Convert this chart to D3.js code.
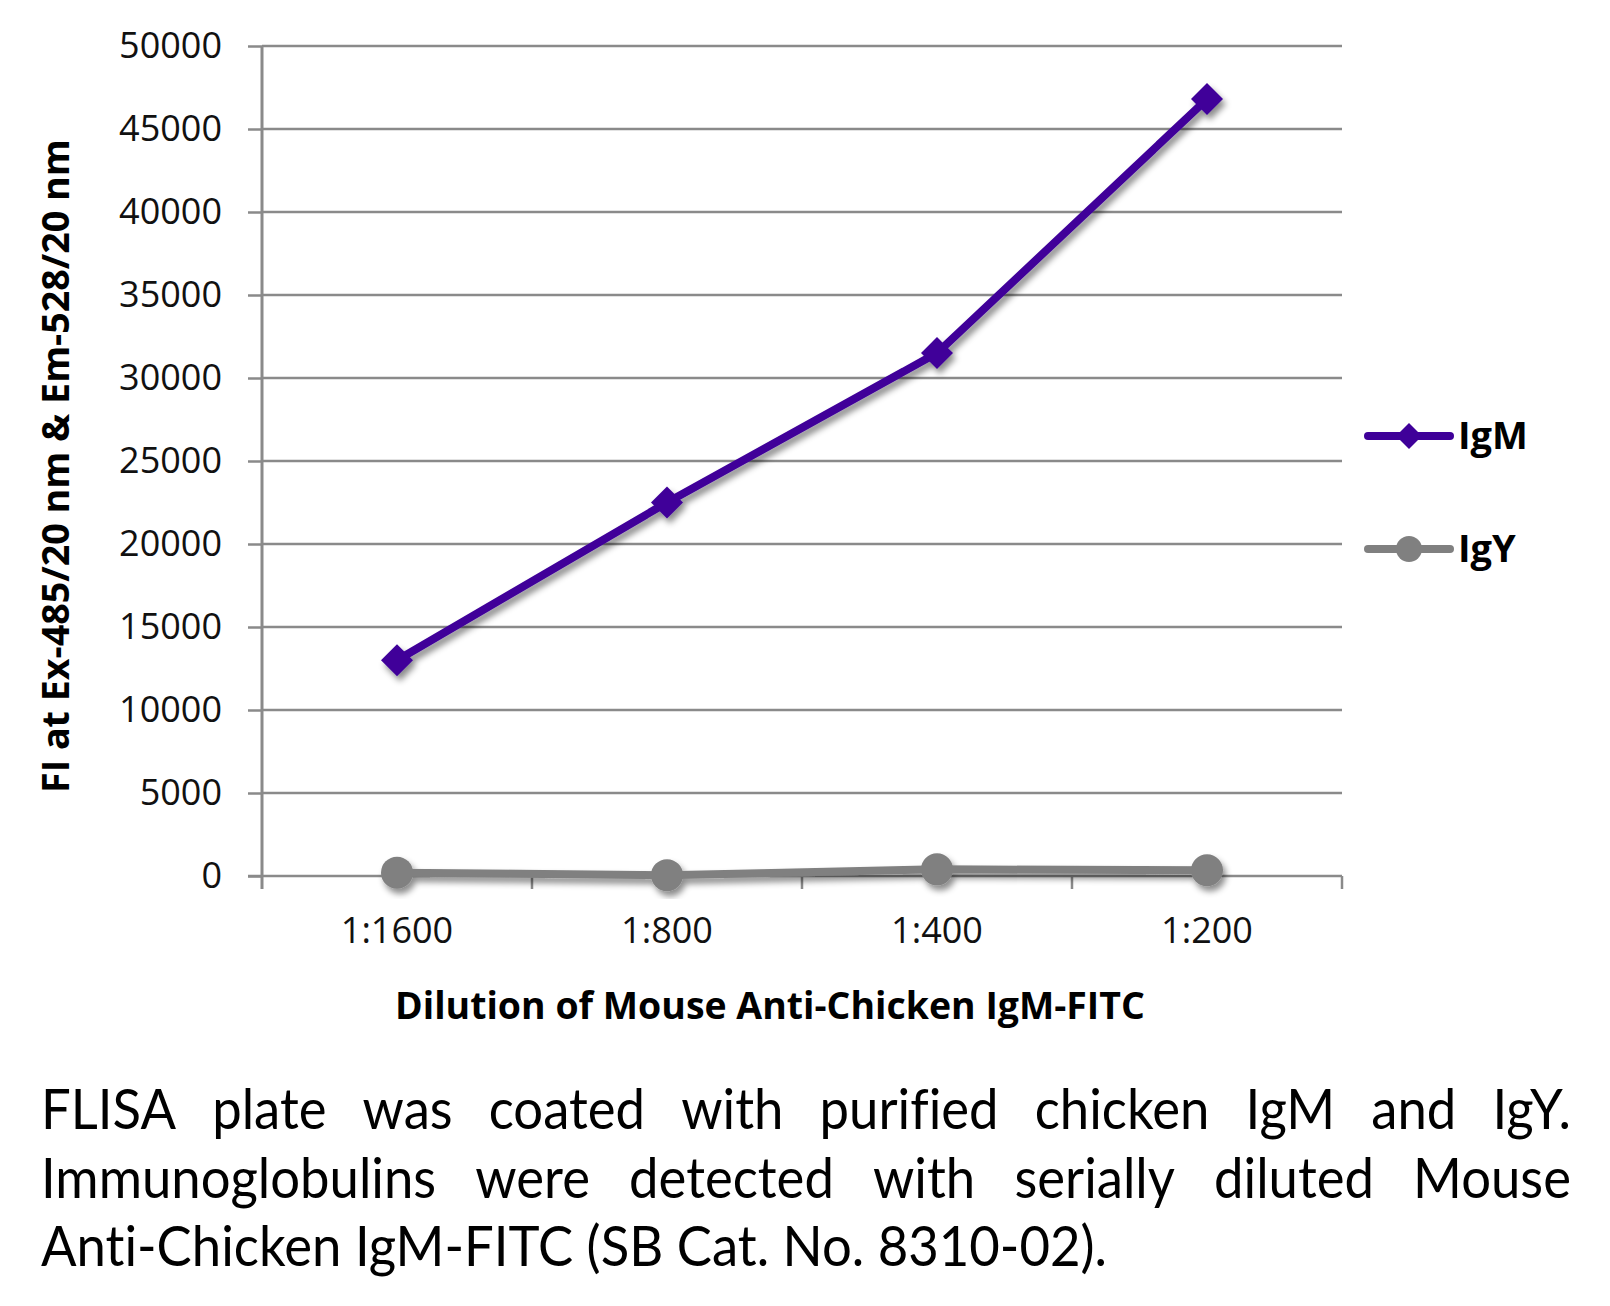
<!DOCTYPE html>
<html>
<head>
<meta charset="utf-8">
<script src="https://cdn.jsdelivr.net/npm/d3@7"></script>
<style>
  html, body { margin: 0; padding: 0; background: #fff; }
  svg { display: block; }
  text { font-variant-ligatures: none; font-feature-settings: "liga" 0, "clig" 0; }
</style>
</head>
<body>
<svg id="chart" width="1610" height="1306"></svg>
<script>
// ---- data ----
const categories = ["1:1600", "1:800", "1:400", "1:200"];
const igmValues = [13000, 22500, 31500, 46800];
const igyValues = [200, 50, 400, 350];
const seriesNames = ["IgM", "IgY"];
const seriesColors = ["#3f0099", "#808080"];
const yTickValues = [0, 5000, 10000, 15000, 20000, 25000, 30000, 35000, 40000, 45000, 50000];
const yTitle = "FI at Ex-485/20 nm & Em-528/20 nm";
const xTitle = "Dilution of Mouse Anti-Chicken IgM-FITC";
const captionLines = [
  "FLISA plate was coated with purified chicken IgM and IgY.",
  "Immunoglobulins were detected with serially diluted Mouse",
  "Anti-Chicken IgM-FITC (SB Cat. No. 8310-02)."
];

// ---- layout ----
const FONT = "'Open Sans', 'Noto Sans', sans-serif";
const CAPFONT = "Lato, 'Open Sans', sans-serif";
const plot = { left: 262, right: 1342, top: 46, bottom: 876 };
const svg = d3.select("#chart");

const defs = svg.append("defs");
const f = defs.append("filter").attr("id", "shadow")
  .attr("x", "-20%").attr("y", "-20%").attr("width", "140%").attr("height", "140%");
f.append("feDropShadow").attr("dx", 3).attr("dy", 5).attr("stdDeviation", 3)
  .attr("flood-color", "#000").attr("flood-opacity", 0.45);

const x = d3.scaleBand().domain(categories).range([plot.left, plot.right]).padding(0);
const y = d3.scaleLinear().domain([0, 50000]).range([plot.bottom, plot.top]);

function fittedText(parent, str, cx, baseline, targetW, attrs, anchor) {
  const g = parent.append("g");
  const t = g.append("text").text(str);
  Object.entries(attrs).forEach(([k, v]) => t.attr(k, v));
  const w = t.node().getComputedTextLength();
  const s = targetW / w;
  const x0 = anchor === "middle" ? cx - targetW / 2 : cx;
  g.attr("transform", `translate(${x0},${baseline}) scale(${s},1)`);
  return g;
}

// gridlines
svg.append("g").selectAll("line").data(yTickValues.filter(v => v > 0)).join("line")
  .attr("x1", plot.left).attr("x2", plot.right)
  .attr("y1", d => y(d)).attr("y2", d => y(d))
  .attr("stroke", "#8a8a8a").attr("stroke-width", 2.5);

// y axis
const yAxis = svg.append("g").attr("transform", `translate(${plot.left},0)`)
  .call(d3.axisLeft(y).tickValues(yTickValues).tickFormat(d3.format("d")).tickSize(14).tickPadding(26));
yAxis.select(".domain").remove();
yAxis.selectAll(".tick line").attr("x1", 0).attr("x2", -14).attr("stroke", "#8a8a8a").attr("stroke-width", 2.5);
yAxis.selectAll(".tick text").attr("font-family", FONT).attr("font-size", 36).attr("fill", "#111")
  .attr("x", -40);
svg.append("line").attr("x1", plot.left).attr("x2", plot.left)
  .attr("y1", plot.top).attr("y2", plot.bottom + 13)
  .attr("stroke", "#8a8a8a").attr("stroke-width", 3);

// x axis (ticks at category boundaries)
svg.append("line").attr("x1", plot.left - 14).attr("x2", plot.right)
  .attr("y1", plot.bottom).attr("y2", plot.bottom)
  .attr("stroke", "#8a8a8a").attr("stroke-width", 2.5);
const boundaries = categories.map(c => x(c)).concat([x(categories[categories.length - 1]) + x.bandwidth()]);
svg.append("g").selectAll("line").data(boundaries.slice(1)).join("line")
  .attr("x1", d => d).attr("x2", d => d)
  .attr("y1", plot.bottom).attr("y2", plot.bottom + 13)
  .attr("stroke", "#8a8a8a").attr("stroke-width", 2.5);
svg.append("g").selectAll("text").data(categories).join("text")
  .attr("x", d => x(d) + x.bandwidth() / 2).attr("y", 943)
  .attr("text-anchor", "middle").attr("font-family", FONT).attr("font-size", 36).attr("fill", "#111")
  .text(d => d);

// axis titles
fittedText(svg, xTitle, 770, 1019, 750,
  { "font-family": FONT, "font-weight": "bold", "font-size": 37, "fill": "#000" }, "middle");
const yt = svg.append("g").attr("transform", "translate(69,466) rotate(-90)");
fittedText(yt, yTitle, 0, 0, 654,
  { "font-family": FONT, "font-weight": "bold", "font-size": 37, "fill": "#000" }, "middle");

// series
const series = [
  { name: seriesNames[0], values: igmValues, color: seriesColors[0], marker: "diamond" },
  { name: seriesNames[1], values: igyValues, color: seriesColors[1], marker: "circle" }
];
const cx = c => x(c) + x.bandwidth() / 2;
const line = d3.line().x((d, i) => cx(categories[i])).y(d => y(d));
const diamond = (s) => `M0,${-s}L${s},0L0,${s}L${-s},0Z`;

[series[1], series[0]].forEach(s => {
  const g = svg.append("g").attr("filter", "url(#shadow)");
  g.append("path").datum(s.values).attr("d", line)
    .attr("fill", "none").attr("stroke", s.color).attr("stroke-width", 8)
    .attr("stroke-linejoin", "round");
  if (s.marker === "diamond") {
    g.selectAll("path.m").data(s.values).join("path").attr("class", "m")
      .attr("transform", (d, i) => `translate(${cx(categories[i])},${y(d)})`)
      .attr("d", diamond(16)).attr("fill", s.color);
  } else {
    g.selectAll("circle").data(s.values).join("circle")
      .attr("cx", (d, i) => cx(categories[i])).attr("cy", d => y(d))
      .attr("r", 16).attr("fill", s.color);
  }
});

// legend
const legendY = [436, 549];
series.forEach((s, i) => {
  const g = svg.append("g").attr("transform", `translate(0,${legendY[i]})`);
  g.append("line").attr("x1", 1368).attr("x2", 1450).attr("y1", 0).attr("y2", 0)
    .attr("stroke", s.color).attr("stroke-width", 8).attr("stroke-linecap", "round");
  if (s.marker === "diamond") {
    g.append("path").attr("transform", "translate(1409,0)").attr("d", diamond(13)).attr("fill", s.color);
  } else {
    g.append("circle").attr("cx", 1409).attr("cy", 0).attr("r", 13).attr("fill", s.color);
  }
  g.append("text").attr("x", 1458).attr("y", 13).attr("font-family", FONT)
    .attr("font-weight", "bold").attr("font-size", 38).attr("fill", "#000").text(s.name);
});

// caption (justified, horizontally condensed)
const capLeft = 41, capRight = 1571, capBaselines = [1129, 1198, 1266], capSize = 56;
const tmp = svg.append("text").attr("font-family", CAPFONT).attr("font-size", capSize).text(captionLines[2]);
const natural3 = tmp.node().getComputedTextLength();
tmp.text("a b"); const ab = tmp.node().getComputedTextLength();
tmp.text("ab"); const spaceW = ab - tmp.node().getComputedTextLength();
tmp.remove();
const k = 1066 / natural3;
captionLines.forEach((ln, i) => {
  const words = ln.split(" ");
  const gs = words.map(w => {
    const g = svg.append("g");
    g.append("text").attr("font-family", CAPFONT).attr("font-size", capSize).attr("fill", "#000").text(w);
    return g;
  });
  const widths = gs.map(g => g.select("text").node().getComputedTextLength() * k);
  const total = d3.sum(widths);
  const gap = i < 2 ? (capRight - capLeft - total) / (words.length - 1) : spaceW * k;
  let xpos = capLeft;
  gs.forEach((g, j) => {
    g.attr("transform", `translate(${xpos},${capBaselines[i]}) scale(${k},1)`);
    xpos += widths[j] + gap;
  });
});
</script>
</body>
</html>
